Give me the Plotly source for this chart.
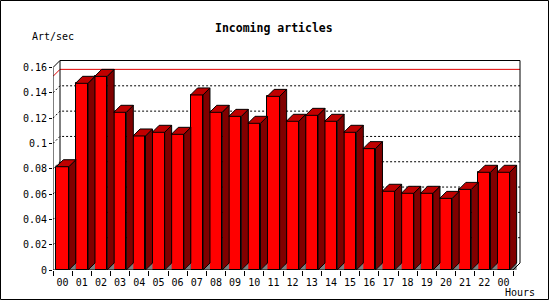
import plotly.graph_objects as go

# ---- data ----
hours = ["00", "01", "02", "03", "04", "05", "06", "07", "08", "09", "10", "11",
         "12", "13", "14", "15", "16", "17", "18", "19", "20", "21", "22", "00"]
rates = [0.0816, 0.1475, 0.1530, 0.1246, 0.1059, 0.1088, 0.1072, 0.1383,
         0.1246, 0.1214, 0.1159, 0.1372, 0.1175, 0.1222, 0.1175, 0.1088,
         0.0959, 0.0622, 0.0606, 0.0606, 0.0566, 0.0637, 0.0772, 0.0772]
y_tick_vals = [0, 0.02, 0.04, 0.06, 0.08, 0.10, 0.12, 0.14, 0.16]
y_tick_text = ["0", "0.02", "0.04", "0.06", "0.08", "0.1", "0.12", "0.14", "0.16"]
title_text = "Incoming articles"
y_title = "Art/sec"
x_title = "Hours"

# ---- geometry / style ----
W, H = 550, 300
L, R, T, B = 53, 27, 60, 30
PW, PH = W - L - R, H - T - B
cat_px = 460 / len(hours)          # pixels per category
val_px = 202.5 / y_tick_vals[-1]   # pixels per unit value
depth_px = 7
dx = depth_px / cat_px
dy = depth_px / val_px
bw = 0.65
x_first, x_last = -0.5, len(hours) - 0.5
ymax_axis = y_tick_vals[-1]

FRONT = "#ff0000"
TOP = "#c00000"
SIDE = "#800000"
SHADOW = "#808080"
MONO = "DejaVu Sans Mono"

xs = list(range(len(hours)))


def px_x(p):
    return (p - L) / PW


def px_y(p):
    return (H - B - p) / PH


top_x, top_y, side_x, side_y, sh_x, sh_y = [], [], [], [], [], []
for i, v in zip(xs, rates):
    a, b = i - bw / 2, i + bw / 2
    top_x += [a, b, b + dx, a + dx, a, None]
    top_y += [v, v, v + dy, v + dy, v, None]
    side_x += [b, b, b + dx, b + dx, b, None]
    side_y += [0, v, v + dy, dy, 0, None]
    sh_x += [b, b + dx, b + dx, b, None]
    sh_y += [0, dy, 0, 0, None]

fig = go.Figure()
fig.add_trace(go.Bar(x=xs, y=rates, width=bw, marker=dict(color=FRONT, line=dict(color="black", width=1)),
                     hoverinfo="skip"))
fig.add_trace(go.Scatter(x=sh_x, y=sh_y, mode="lines", fill="toself", fillcolor=SHADOW,
                         line=dict(width=0, color=SHADOW), hoverinfo="skip"))
fig.add_trace(go.Scatter(x=side_x, y=side_y, mode="lines", fill="toself", fillcolor=SIDE,
                         line=dict(width=1, color="black"), hoverinfo="skip"))
fig.add_trace(go.Scatter(x=top_x, y=top_y, mode="lines", fill="toself", fillcolor=TOP,
                         line=dict(width=1, color="black"), hoverinfo="skip"))

shapes = []
# dotted grid on back wall
for v in y_tick_vals[1:-1]:
    shapes.append(dict(type="path", layer="below", xref="x", yref="y",
                       path=f"M {x_first},{v} L {x_first+dx},{v+dy} L {x_last+dx},{v+dy}",
                       line=dict(color="black", width=1, dash="2px,2px")))
# max line
vmax = max(rates)
shapes.append(dict(type="path", layer="below", xref="x", yref="y",
                   path=f"M {x_first},{vmax} L {x_first+dx},{vmax+dy} L {x_last+dx},{vmax+dy}",
                   line=dict(color="#e00000", width=1)))
# back wall frame
shapes.append(dict(type="path", layer="below", xref="x", yref="y",
                   path=f"M {x_first+dx},{dy} L {x_first+dx},{ymax_axis+dy} L {x_last+dx},{ymax_axis+dy} L {x_last+dx},{dy}",
                   line=dict(color="black", width=1)))
# front axes
shapes.append(dict(type="path", layer="above", xref="x", yref="y",
                   path=f"M {x_first+dx},{ymax_axis+dy} L {x_first},{ymax_axis} L {x_first},0 L {x_last},0 L {x_last+dx},{dy}",
                   line=dict(color="black", width=1)))
# outer border
shapes.append(dict(type="rect", xref="paper", yref="paper",
                   x0=px_x(0.5), x1=px_x(548.5), y0=px_y(299.5), y1=px_y(0.5),
                   line=dict(color="black", width=1), fillcolor="rgba(0,0,0,0)"))

annotations = [
    dict(text=f"<b>{title_text}</b>", x=px_x(274), y=px_y(27.5), xref="paper", yref="paper",
         showarrow=False, xanchor="center", yanchor="middle",
         font=dict(family=MONO, size=11.5, color="black")),
    dict(text=y_title, x=px_x(30), y=px_y(37), xref="paper", yref="paper",
         showarrow=False, xanchor="left", yanchor="middle",
         font=dict(family=MONO, size=10, color="black")),
    dict(text=x_title, x=px_x(519.5), y=px_y(292.5), xref="paper", yref="paper",
         showarrow=False, xanchor="center", yanchor="middle",
         font=dict(family=MONO, size=10, color="black")),
]

fig.update_layout(
    width=W, height=H, margin=dict(l=L, r=R, t=T, b=B, pad=0),
    paper_bgcolor="white", plot_bgcolor="white", showlegend=False,
    shapes=shapes, annotations=annotations, bargap=0,
    xaxis=dict(range=[x_first, x_first + PW / cat_px], tickmode="array", tickvals=xs, ticktext=hours,
               ticks="", showgrid=False, zeroline=False, showline=False, ticklabelstandoff=5,
               tickfont=dict(family=MONO, size=10, color="black"),
               minor=dict(tickmode="array", tickvals=[x - 0.5 for x in xs] + [x_last],
                          ticks="outside", ticklen=5, tickcolor="black", tickwidth=1, showgrid=False),
               fixedrange=True),
    yaxis=dict(range=[0, PH / val_px], tickmode="array", tickvals=y_tick_vals, ticktext=y_tick_text,
               ticks="outside", ticklen=3, tickcolor="black", showgrid=False, zeroline=False,
               showline=False, tickfont=dict(family=MONO, size=10, color="black"), fixedrange=True),
)

fig.write_html("out.html")
